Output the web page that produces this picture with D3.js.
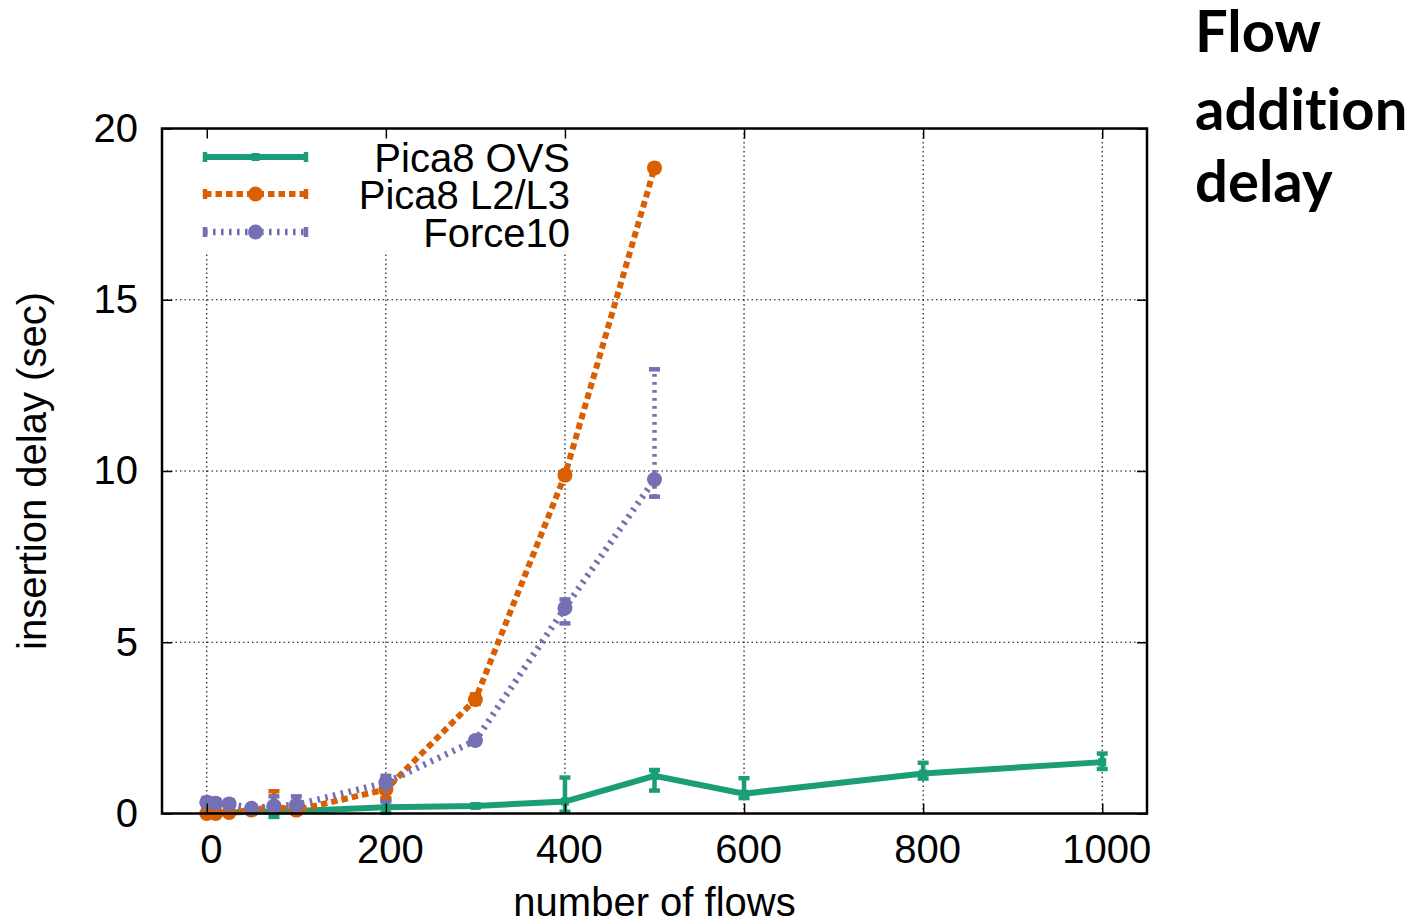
<!DOCTYPE html>
<html>
<head>
<meta charset="utf-8">
<script src="https://cdn.jsdelivr.net/npm/d3@7"></script>
<style>
  body { margin: 0; background: #fff; }
  svg { display: block; }
</style>
</head>
<body>
<svg id="chart" width="1427" height="924"></svg>
<script>
// Axis ticks
const xTicks = [0, 200, 400, 600, 800, 1000];
const yTicks = [0, 5, 10, 15, 20];

// Pica8 OVS
const ovsX  = [0, 10, 25, 50, 75, 100, 200, 300, 400, 500, 600, 800, 1000];
const ovsY  = [0.02, 0.02, 0.03, 0.05, 0.05, 0.07, 0.18, 0.22, 0.35, 1.10, 0.58, 1.17, 1.50];
const ovsLo = [0.00, 0.00, 0.00, 0.00, -0.10, 0.00, 0.02, 0.18, 0.05, 0.67, 0.45, 1.02, 1.30];
const ovsHi = [0.05, 0.05, 0.06, 0.10, 0.10, 0.12, 0.40, 0.26, 1.05, 1.27, 1.03, 1.48, 1.75];

// Pica8 L2/L3
const l23X  = [0, 10, 25, 50, 75, 100, 200, 300, 400, 500];
const l23Y  = [0.00, 0.00, 0.03, 0.10, 0.20, 0.10, 0.70, 3.33, 9.88, 18.85];
const l23Lo = [-0.05, -0.05, 0.00, 0.05, 0.10, 0.05, 0.45, 3.20, 9.78, 18.75];
const l23Hi = [0.05, 0.05, 0.08, 0.15, 0.65, 0.20, 0.95, 3.48, 9.98, 18.95];

// Force10
const f10X  = [0, 10, 25, 50, 75, 100, 200, 300, 400, 500];
const f10Y  = [0.33, 0.30, 0.28, 0.15, 0.22, 0.25, 0.90, 2.13, 6.00, 9.75];
const f10Lo = [0.20, 0.20, 0.18, 0.10, 0.10, 0.15, 0.35, 2.05, 5.55, 9.25];
const f10Hi = [0.45, 0.40, 0.38, 0.22, 0.50, 0.50, 1.10, 2.20, 6.25, 12.97];

const seriesNames  = ["Pica8 OVS", "Pica8 L2/L3", "Force10"];
const seriesColors = ["#1b9e77", "#d95f02", "#7570b3"];

const svg = d3.select("#chart");
const plotLeft = 162, plotRight = 1147, plotTop = 128.5, plotBottom = 813.5;

const x = d3.scaleLinear().domain([-50, 1050]).range([plotLeft, plotRight]);
const y = d3.scaleLinear().domain([0, 20]).range([plotBottom, plotTop]);

const labelFont = "'Liberation Sans', Arial, Helvetica, sans-serif";
const labelSize = 40;

// grid
const grid = svg.append("g").attr("stroke", "#000").attr("stroke-width", 1.1)
  .attr("stroke-dasharray", "1.5,3");
xTicks.forEach(v => grid.append("line")
  .attr("x1", x(v)).attr("x2", x(v)).attr("y1", plotTop).attr("y2", plotBottom));
yTicks.filter(v => v > 0 && v < 20).forEach(v => grid.append("line")
  .attr("x1", plotLeft).attr("x2", plotRight).attr("y1", y(v)).attr("y2", y(v)));

// key background hides grid behind the legend
svg.append("rect").attr("x", plotLeft + 1).attr("y", plotTop + 1)
  .attr("width", 420).attr("height", 122).attr("fill", "#fff");

// series styles
const styles = [
  { dash: null,      width: 6,   marker: "square" },
  { dash: "6.5,4",   width: 6,   marker: "circle" },
  { dash: "2.6,5.4", width: 6.5, marker: "circle" }
];

const data = [
  { xs: ovsX, ys: ovsY, lo: ovsLo, hi: ovsHi },
  { xs: l23X, ys: l23Y, lo: l23Lo, hi: l23Hi },
  { xs: f10X, ys: f10Y, lo: f10Lo, hi: f10Hi }
];

const line = d3.line().x(d => x(d.x)).y(d => y(d.y));

data.forEach((s, i) => {
  const pts = s.xs.map((v, k) => ({ x: v, y: s.ys[k], lo: s.lo[k], hi: s.hi[k] }));
  const col = seriesColors[i], st = styles[i];
  const g = svg.append("g");
  // connecting line
  g.append("path").datum(pts).attr("d", line)
    .attr("fill", "none").attr("stroke", col).attr("stroke-width", st.width)
    .attr("stroke-dasharray", st.dash);
  // error bars
  pts.forEach(p => {
    const cx = x(p.x);
    g.append("line").attr("x1", cx).attr("x2", cx)
      .attr("y1", y(p.lo)).attr("y2", y(p.hi))
      .attr("stroke", col).attr("stroke-width", 4.5).attr("stroke-dasharray", st.dash);
    [p.lo, p.hi].forEach(v => g.append("line")
      .attr("x1", cx - 5.5).attr("x2", cx + 5.5).attr("y1", y(v)).attr("y2", y(v))
      .attr("stroke", col).attr("stroke-width", 4.5));
  });
  // markers
  pts.forEach(p => {
    if (st.marker === "square") {
      g.append("rect").attr("x", x(p.x) - 4).attr("y", y(p.y) - 4)
        .attr("width", 8).attr("height", 8).attr("fill", col);
    } else {
      g.append("circle").attr("cx", x(p.x)).attr("cy", y(p.y)).attr("r", 7.5)
        .attr("fill", col);
    }
  });
});

// legend
const keyY = [157, 194, 232];
seriesNames.forEach((name, i) => {
  const col = seriesColors[i], st = styles[i];
  const g = svg.append("g");
  g.append("line").attr("x1", 205).attr("x2", 306).attr("y1", keyY[i]).attr("y2", keyY[i])
    .attr("stroke", col).attr("stroke-width", st.width).attr("stroke-dasharray", st.dash);
  [205, 306].forEach(ex => g.append("line")
    .attr("x1", ex).attr("x2", ex).attr("y1", keyY[i] - 5).attr("y2", keyY[i] + 5)
    .attr("stroke", col).attr("stroke-width", 4.5));
  if (st.marker === "square") {
    g.append("rect").attr("x", 255.5 - 4).attr("y", keyY[i] - 4)
      .attr("width", 8).attr("height", 8).attr("fill", col);
  } else {
    g.append("circle").attr("cx", 255.5).attr("cy", keyY[i]).attr("r", 7.5).attr("fill", col);
  }
  g.append("text").attr("x", 570).attr("y", keyY[i] + 14.5)
    .attr("text-anchor", "end").attr("font-family", labelFont).attr("font-size", labelSize)
    .attr("fill", "#000").text(name);
});

// axes with inward ticks (mirrored)
const tickLen = 10;
const axB = svg.append("g").attr("transform", `translate(0,${plotBottom})`)
  .call(d3.axisBottom(x).tickValues(xTicks).tickFormat(d3.format("d"))
    .tickSizeInner(-tickLen).tickSizeOuter(0).tickPadding(22));
const axT = svg.append("g").attr("transform", `translate(0,${plotTop})`)
  .call(d3.axisTop(x).tickValues(xTicks).tickSizeInner(-tickLen).tickSizeOuter(0).tickFormat(""));
const axL = svg.append("g").attr("transform", `translate(${plotLeft},0)`)
  .call(d3.axisLeft(y).tickValues(yTicks).tickSizeInner(-tickLen).tickSizeOuter(0).tickPadding(24));
const axR = svg.append("g").attr("transform", `translate(${plotRight},0)`)
  .call(d3.axisRight(y).tickValues(yTicks).tickSizeInner(-tickLen).tickSizeOuter(0).tickFormat(""));
[axB, axT, axL, axR].forEach(a => {
  a.select(".domain").remove();
  a.selectAll(".tick line").attr("stroke", "#000").attr("stroke-width", 1.5);
  a.selectAll("text").attr("font-family", labelFont).attr("font-size", labelSize).attr("fill", "#000");
});
axB.selectAll("text").attr("dy", "0.68em").attr("dx", 4);

// frame
svg.append("rect").attr("x", plotLeft).attr("y", plotTop)
  .attr("width", plotRight - plotLeft).attr("height", plotBottom - plotTop)
  .attr("fill", "none").attr("stroke", "#000").attr("stroke-width", 2.5);

// axis titles
svg.append("text").attr("x", (plotLeft + plotRight) / 2).attr("y", 916)
  .attr("text-anchor", "middle").attr("font-family", labelFont).attr("font-size", labelSize)
  .text("number of flows");
svg.append("text").attr("transform", `translate(46,${(plotTop + plotBottom) / 2}) rotate(-90)`)
  .attr("text-anchor", "middle").attr("font-family", labelFont).attr("font-size", labelSize)
  .text("insertion delay (sec)");

// side title
const titleLines = ["Flow", "addition", "delay"];
const titleBase = [52, 130, 202];
titleLines.forEach((t, i) => svg.append("text")
  .attr("x", 1195).attr("y", titleBase[i])
  .attr("font-family", "Lato, 'Open Sans', sans-serif").attr("font-weight", 700)
  .style("font-variant-ligatures", "none")
  .attr("font-size", 58).attr("fill", "#000").text(t));
</script>
</body>
</html>
